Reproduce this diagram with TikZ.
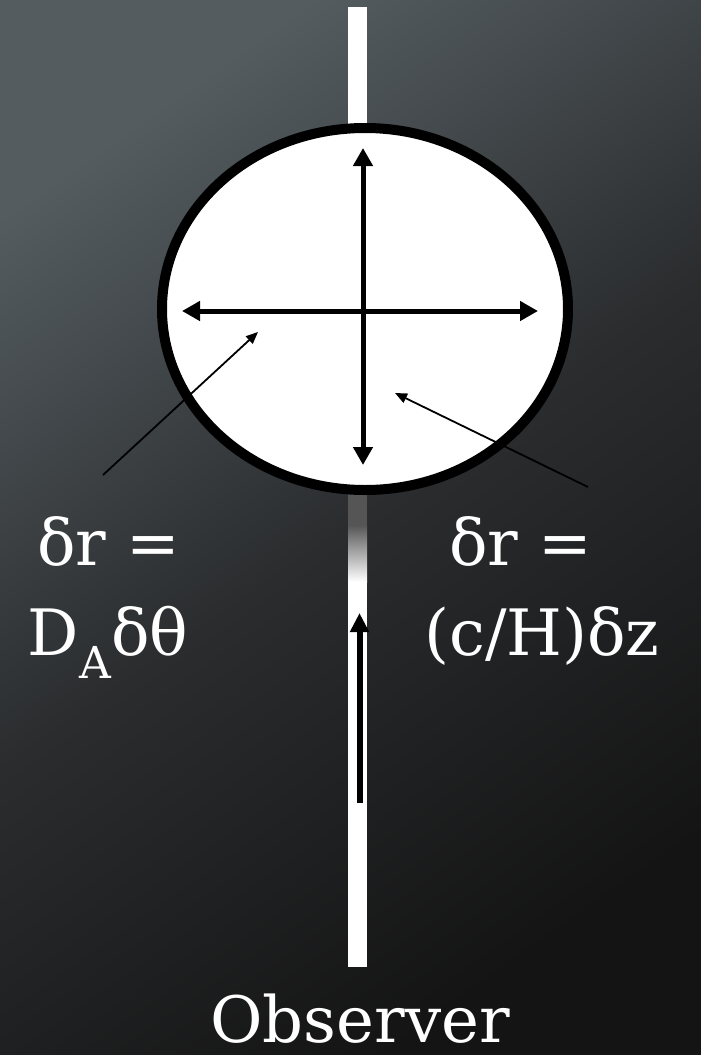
\documentclass[tikz,border=0pt]{standalone}
\usepackage{fontspec}
\setmainfont{DejaVu Serif}
\usetikzlibrary{arrows.meta,shapes.geometric}
\definecolor{obsbgtop}{RGB}{84,92,96}
\definecolor{obsbgmid}{RGB}{42,44,46}
\definecolor{obsbgbot}{RGB}{20,20,20}
\definecolor{obsfade}{RGB}{85,85,85}
\tikzset{
 obs bar/.style={fill=white},
 obs source/.style={ellipse,draw=black,fill=white,line width=10pt,
                    minimum width=406pt,minimum height=362pt,inner sep=0pt},
 obs axis/.style={line width=5pt,
                  {Triangle[length=18pt,width=19pt]}-{Triangle[length=18pt,width=19pt]}},
 obs pointer/.style={line width=1.8pt,-{Triangle[length=12pt,width=10pt]}},
 obs sight/.style={line width=6pt,-{Triangle[length=19pt,width=18pt]}},
 obs label/.style={text=white,font=\fontsize{64}{70}\selectfont,inner sep=0pt,anchor=base}
}
\begin{document}
\begin{tikzpicture}[x=1pt,y=-1pt]
 \useasboundingbox (0,0) rectangle (701,1055);
 \shade[top color=obsbgtop,bottom color=obsbgbot,middle color=obsbgmid,shading angle=35]
   (0,0) rectangle (701,1055);

 % line of sight
 \fill[obs bar] (348,7) rectangle (367,967);
 \fill[obsfade] (348,480) rectangle (367,525);
 \shade[top color=obsfade,bottom color=white] (348,525) rectangle (367,582);

 \node[obs source] (src) at (365,309) {};
 \coordinate (ax top) at (363,148);
 \coordinate (ax bot) at (363,465);
 \coordinate (ax left) at (182,311);
 \coordinate (ax right) at (538,311);
 \draw[obs axis] (ax bot)--(ax top);
 \draw[obs axis] (ax left)--(ax right);

 \node[obs label] (ltop) at (109,565) {δr =};
 \node[obs label] (lbot) at (108,655) {D\raisebox{-23pt}{\fontsize{44}{48}\selectfont A}δθ};
 \node[obs label] (rtop) at (521,565) {δr =};
 \node[obs label] (rbot) at (542,655) {(c/H)δz};
 \node[obs label] (obs) at (360,1042) {Observer};

 \coordinate (lp from) at (103,475);
 \coordinate (lp to) at (258,332);
 \coordinate (rp from) at (588,487);
 \coordinate (rp to) at (395,393);
 \draw[obs pointer] (lp from)--(lp to);
 \draw[obs pointer] (rp from)--(rp to);

 \coordinate (sight from) at (359.5,803);
 \coordinate (sight to) at (359.5,613);
 \draw[obs sight] (sight from)--(sight to);
\end{tikzpicture}
\end{document}
